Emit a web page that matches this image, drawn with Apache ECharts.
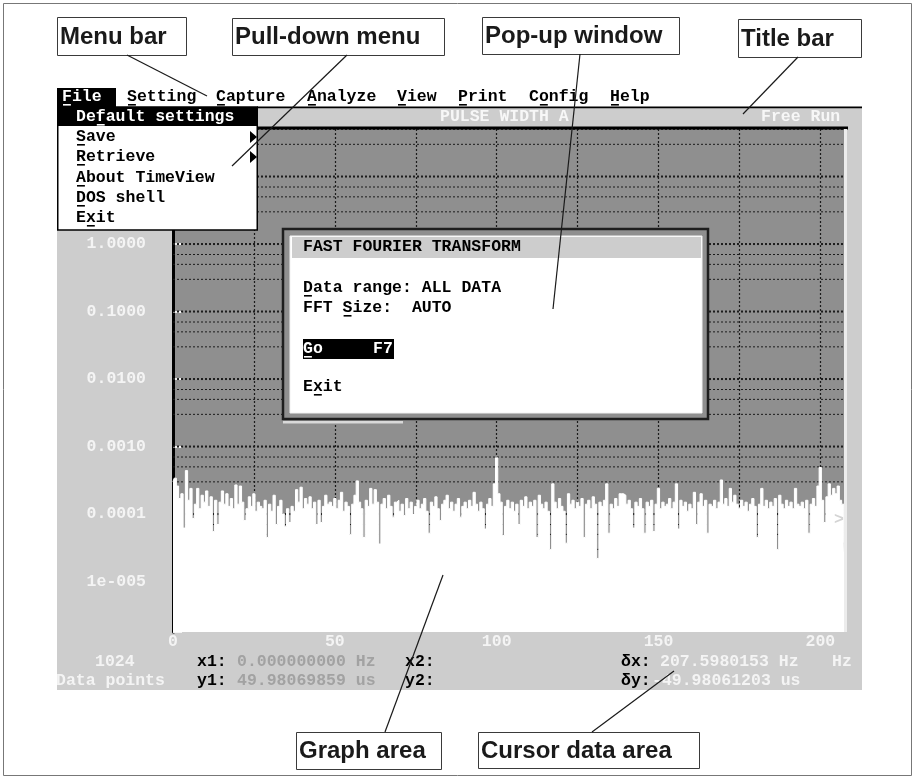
<!DOCTYPE html>
<html>
<head>
<meta charset="utf-8">
<script src="https://cdn.jsdelivr.net/npm/echarts@6/dist/echarts.min.js"></script>
<style>html,body{margin:0;padding:0;background:#fff}#c{width:915px;height:780px}</style>
</head>
<body>
<div id="c"></div>
<script>
// ---------------- data ----------------
const xMaxHz = 207.6;            // span of the frequency axis (δx = 207.598 Hz)
const xTickStepHz = 25;          // vertical grid spacing
const xLabelValues = [0, 50, 100, 150, 200];
const yMin = 1.79e-6, yMax = 50.6;
const yTickValues = [10, 1, 0.1, 0.01, 0.001, 0.0001, 0.00001];
const yTickLabels = ['10.0000', '1.0000', '0.1000', '0.0100', '0.0010', '0.0001', '1e-005'];
const gridMantissas = [1, 3, 5, 7];
const gridDecades = [-6, -5, -4, -3, -2, -1, 0, 1];
const binHz = 0.6943;            // FFT bin spacing of the plotted spectrum
const spectrum = [
 3.0e-4,3.4e-4,2.6e-4,1.7e-4,2.0e-4,6.2e-5,4.4e-4,1.6e-4,2.4e-4,8.6e-5,
 1.4e-4,2.4e-4,1.2e-4,1.9e-4,1.5e-4,2.2e-4,1.3e-4,1.8e-4,5.5e-5,1.6e-4,
 7.0e-5,1.5e-4,2.2e-4,1.4e-4,2.0e-4,1.3e-4,1.7e-4,1.2e-4,2.7e-4,1.4e-4,
 2.6e-4,1.5e-4,8.0e-5,1.2e-4,1.8e-4,1.3e-4,2.0e-4,1.1e-4,1.5e-4,1.3e-4,
 1.2e-4,1.6e-4,4.5e-5,1.4e-4,1.1e-4,1.9e-4,7.0e-5,1.3e-4,1.6e-4,1.0e-4,
 6.5e-5,1.2e-4,7.5e-5,1.3e-4,1.1e-4,2.3e-4,1.5e-4,2.5e-4,1.2e-4,1.7e-4,
 1.4e-4,1.8e-4,1.2e-4,1.5e-4,7.0e-5,1.6e-4,7.5e-5,1.3e-4,1.9e-4,1.4e-4,
 1.5e-4,1.3e-4,1.7e-4,1.2e-4,1.6e-4,2.1e-4,1.1e-4,1.5e-4,1.3e-4,5.0e-5,
 1.4e-4,1.9e-4,3.1e-4,1.5e-4,1.2e-4,4.5e-5,1.6e-4,1.3e-4,2.4e-4,1.4e-4,
 2.3e-4,1.5e-4,3.6e-5,1.4e-4,1.7e-4,1.2e-4,1.9e-4,1.3e-4,9.0e-5,1.5e-4,
 1.6e-4,1.1e-4,1.4e-4,9.5e-5,1.7e-4,1.2e-4,1.5e-4,1.0e-4,1.3e-4,1.6e-4,
 1.2e-4,1.4e-4,1.7e-4,1.1e-4,5.2e-5,1.5e-4,1.3e-4,1.8e-4,1.2e-4,8.0e-5,
 1.4e-4,1.6e-4,1.9e-4,1.2e-4,1.5e-4,1.1e-4,1.4e-4,1.7e-4,9.0e-5,1.3e-4,
 1.5e-4,1.2e-4,1.6e-4,1.3e-4,2.1e-4,1.4e-4,1.1e-4,1.5e-4,1.2e-4,6.0e-5,
 1.4e-4,1.7e-4,1.3e-4,2.8e-4,6.8e-4,2.0e-4,1.5e-4,4.8e-5,1.3e-4,1.6e-4,
 1.2e-4,1.5e-4,1.1e-4,1.4e-4,7.0e-5,1.6e-4,1.3e-4,1.8e-4,1.2e-4,1.5e-4,
 1.3e-4,1.6e-4,4.5e-5,1.9e-4,1.4e-4,1.2e-4,1.5e-4,1.1e-4,3.0e-5,2.8e-4,
 1.5e-4,1.2e-4,1.7e-4,1.3e-4,1.1e-4,3.7e-5,2.0e-4,1.4e-4,1.6e-4,1.2e-4,
 1.5e-4,1.3e-4,1.7e-4,4.5e-5,1.4e-4,1.6e-4,1.2e-4,1.8e-4,1.4e-4,2.2e-5,
 1.5e-4,1.3e-4,1.6e-4,2.8e-4,5.2e-5,1.4e-4,1.2e-4,1.7e-4,1.3e-4,2.0e-4,
 2.0e-4,1.9e-4,1.4e-4,1.6e-4,1.2e-4,6.2e-5,1.5e-4,1.3e-4,1.7e-4,1.2e-4,
 5.2e-5,1.5e-4,1.3e-4,1.6e-4,5.5e-5,1.4e-4,2.4e-4,1.2e-4,1.5e-4,1.3e-4,
 1.4e-4,1.7e-4,1.2e-4,1.5e-4,2.8e-4,6.0e-5,1.6e-4,1.3e-4,1.5e-4,1.1e-4,
 1.4e-4,1.2e-4,2.1e-4,7.0e-5,1.5e-4,2.0e-4,1.3e-4,1.6e-4,5.2e-5,1.4e-4,
 1.3e-4,1.6e-4,1.2e-4,1.5e-4,3.2e-4,1.4e-4,1.7e-4,1.3e-4,2.4e-4,1.5e-4,
 1.9e-4,1.4e-4,1.2e-4,1.6e-4,1.3e-4,1.5e-4,1.1e-4,1.4e-4,1.7e-4,1.3e-4,
 4.5e-5,1.4e-4,2.4e-4,1.3e-4,1.6e-4,1.2e-4,1.5e-4,1.3e-4,1.7e-4,3.0e-5,
 1.9e-4,1.4e-4,1.2e-4,1.6e-4,1.3e-4,1.5e-4,1.2e-4,2.4e-4,1.4e-4,1.3e-4,
 1.5e-4,1.2e-4,1.6e-4,5.2e-5,1.4e-4,1.7e-4,1.3e-4,2.6e-4,4.9e-4,1.6e-4,
 7.5e-5,1.8e-4,2.8e-4,1.9e-4,2.4e-4,2.0e-4,2.6e-4,1.6e-4,1.4e-4,3.8e-5
];
const menuItems = ['File', 'Setting', 'Capture', 'Analyze', 'View', 'Print', 'Config', 'Help'];
const pullDownItems = ['Default settings', 'Save', 'Retrieve', 'About TimeView', 'DOS shell', 'Exit'];
const popupLines = ['FAST FOURIER TRANSFORM', 'Data range: ALL DATA', 'FFT Size:  AUTO', 'Go', 'F7', 'Exit'];
const cursorTexts = {count: '1024', countLabel: 'Data points', x1: '0.000000000 Hz', y1: '49.98069859 us',
  dx: '207.5980153 Hz', dxUnit: 'Hz', dy: '-49.98061203 us'};
const titleTexts = ['PULSE WIDTH A', 'Free Run'];
const callouts = ['Menu bar', 'Pull-down menu', 'Pop-up window', 'Title bar', 'Graph area', 'Cursor data area'];

// ---------------- layout / style ----------------
const DOS_FAMILY = '"Liberation Mono", "DejaVu Sans Mono", monospace';
const DOS = 'bold 16.5px ' + DOS_FAMILY;
const CW = 9.9;
const PANEL = '#cdcdcd', PLOT = '#8f8f8f', LIGHT = '#f4f4f4', DIM = '#a2a2a2';
const G = [];
function rect(x, y, w, h, fill, z, extra) {
  G.push({type: 'rect', z: z, silent: true, shape: {x: x, y: y, width: w, height: h},
    style: Object.assign({fill: fill}, extra || {})});
}
function text(str, x, y, fill, z, font, align) {
  G.push({type: 'text', z: z, silent: true, x: x, y: y,
    style: {text: str, fill: fill, font: font || DOS, align: align || 'left', verticalAlign: 'middle'}});
}
function seg(x1, y1, x2, y2, stroke, w, z) {
  G.push({type: 'line', z: z, silent: true, shape: {x1: x1, y1: y1, x2: x2, y2: y2},
    style: {stroke: stroke, lineWidth: w}});
}
function ul(x, y, idx, fill, z) { rect(x + idx * CW + 1, y + 7, CW - 2, 1.6, fill, z); }

// outer frame + screen panel
rect(3.5, 3.5, 908, 772, 'none', 0, {stroke: '#777', lineWidth: 1});
rect(57, 108, 805, 582, PANEL, -1);
// menu bar
const menuX = [62, 127, 216, 307, 397, 458, 529, 610];
const menuUl = [0, 0, 0, 0, 0, 0, 1, 0];
rect(57, 88, 59, 19, '#000', 10);
menuItems.forEach(function (m, i) {
  const c = i === 0 ? '#fff' : '#000';
  text(m, menuX[i], 97, c, 11);
  ul(menuX[i], 97, menuUl[i], c, 11);
});
rect(257, 106.5, 605, 1.8, '#000', 10);
// title bar
text(titleTexts[0], 440, 117, '#f7f7f7', 11);
text(titleTexts[1], 761, 117, '#f7f7f7', 11);
rect(257, 126.5, 591, 3, '#000', 10);
rect(844, 129, 3, 503, '#ececec', 10);
text('>', 834, 520, '#d4d4d4', 10);
// pull-down
rect(57.75, 107, 199.5, 123, '#fff', 10, {stroke: '#000', lineWidth: 1.5});
rect(57.75, 107, 199.5, 19, '#000', 10);
const pdY = [117, 137, 157, 178, 198, 218];
const pdUl = [2, 0, 0, 0, 0, 1];
pullDownItems.forEach(function (p, i) {
  const c = i === 0 ? '#fff' : '#000';
  text(p, 76, pdY[i], c, 11);
  ul(76, pdY[i], pdUl[i], c, 11);
});
[137, 157].forEach(function (y) {
  G.push({type: 'polygon', z: 11, silent: true, shape: {points: [[250, y - 6], [257, y], [250, y + 6]]}, style: {fill: '#000'}});
});
// pop-up window
rect(283, 229, 425, 190, PLOT, 10, {stroke: '#1e1e1e', lineWidth: 2.5});
rect(290, 236, 412, 177, '#fff', 10, {stroke: '#f2f2f2', lineWidth: 1});
rect(292, 237, 409, 21, PANEL, 10);
rect(283, 421, 120, 2.5, '#d8d8d8', 10);
text(popupLines[0], 303, 247, '#000', 11);
text(popupLines[1], 303, 288, '#000', 11); ul(303, 288, 0, '#000', 11);
text(popupLines[2], 303, 308, '#000', 11); ul(303, 308, 4, '#000', 11);
rect(303, 339, 91, 20, '#000', 10);
text(popupLines[3], 303, 349, '#fff', 11); ul(303, 349, 0, '#fff', 11);
text(popupLines[4], 373, 349, '#fff', 11);
text(popupLines[5], 303, 387, '#000', 11); ul(303, 387, 1, '#000', 11);
// cursor data area
text(cursorTexts.count, 95, 662, LIGHT, 11);
text(cursorTexts.countLabel, 56, 681, LIGHT, 11);
text('x1:', 197, 662, '#000', 11);
text(cursorTexts.x1, 237, 662, DIM, 11);
text('y1:', 197, 681, '#000', 11);
text(cursorTexts.y1, 237, 681, DIM, 11);
text('x2:', 405, 662, '#000', 11);
text('y2:', 405, 681, '#000', 11);
text('\u03b4x:', 621, 662, '#000', 11);
text(cursorTexts.dx, 660, 662, LIGHT, 11);
text(cursorTexts.dxUnit, 832, 662, LIGHT, 11);
text('\u03b4y:', 621, 681, '#000', 11);
text(cursorTexts.dy, 652, 681, LIGHT, 11);
// callout boxes and leaders
const boxes = [[57, 17, 129, 38], [232, 18, 212, 37], [482, 17, 197, 37], [738, 19, 123, 38], [296, 732, 145, 37], [478, 732, 221, 36]];
const leaders = [[127, 55, 207, 96], [347, 55, 232, 166], [580, 54, 553, 309], [798, 57, 743, 114], [385, 732, 443, 575], [592, 732, 674, 671]];
const CALL_FONT = 'bold 24px "Liberation Sans", Arial, sans-serif';
boxes.forEach(function (b, i) {
  rect(b[0] + 0.5, b[1] + 0.5, b[2], b[3], '#fff', 20, {stroke: '#3a3a3a', lineWidth: 1});
  text(callouts[i], b[0] + 3, b[1] + b[3] / 2 + 1, '#1a1a1a', 21, CALL_FONT);
});
leaders.forEach(function (l) { seg(l[0], l[1], l[2], l[3], '#1a1a1a', 1.2, 22); });

// ---------------- series ----------------
const gridSeries = [];
gridDecades.forEach(function (d) {
  gridMantissas.forEach(function (m) {
    const v = m * Math.pow(10, d);
    if (v < yMin || v > yMax) return;
    gridSeries.push({type: 'line', z: 1, silent: true, symbol: 'none', animation: false,
      data: [[0, v], [xMaxHz, v]],
      lineStyle: {color: '#1c1c1c', width: m === 1 ? 2 : 1, type: [2, 2]}});
  });
});
function yLabel(v) {
  for (let i = 0; i < yTickValues.length; i++) {
    if (Math.abs(Math.log10(v) - Math.log10(yTickValues[i])) < 1e-6) return yTickLabels[i];
  }
  return '';
}
const chart = echarts.init(document.getElementById('c'), null, {renderer: 'canvas'});
chart.setOption({
  backgroundColor: '#ffffff',
  animation: false,
  grid: {left: 173, top: 129, width: 672, height: 503, show: true, backgroundColor: PLOT, borderWidth: 0},
  xAxis: {
    type: 'value', min: 0, max: xMaxHz, interval: xTickStepHz,
    axisLine: {show: false}, axisTick: {show: false},
    splitLine: {show: true, lineStyle: {color: '#1c1c1c', width: 1.2, type: [2, 2]}},
    axisLabel: {
      margin: 1, color: LIGHT, fontFamily: DOS_FAMILY, fontSize: 16.5, fontWeight: 'bold',
      formatter: function (v) { return xLabelValues.indexOf(v) >= 0 ? String(v) : ''; }
    }
  },
  yAxis: {
    type: 'log', logBase: 10, min: yMin, max: yMax,
    axisLine: {show: true, lineStyle: {color: '#000', width: 3}},
    axisTick: {show: true, inside: true, length: 9, lineStyle: {color: LIGHT, width: 2}},
    splitLine: {show: false},
    axisLabel: {margin: 27, color: LIGHT, fontFamily: DOS_FAMILY, fontSize: 16.5, fontWeight: 'bold', formatter: yLabel}
  },
  graphic: {elements: G},
  series: gridSeries.concat([{
    type: 'line', z: 3, silent: true, step: 'middle', symbol: 'none',
    data: spectrum.map(function (v, i) { return [i * binHz, v]; }),
    lineStyle: {color: '#ffffff', width: 1},
    areaStyle: {color: '#ffffff', opacity: 1, origin: 'start'}
  }])
});
</script>
</body>
</html>
